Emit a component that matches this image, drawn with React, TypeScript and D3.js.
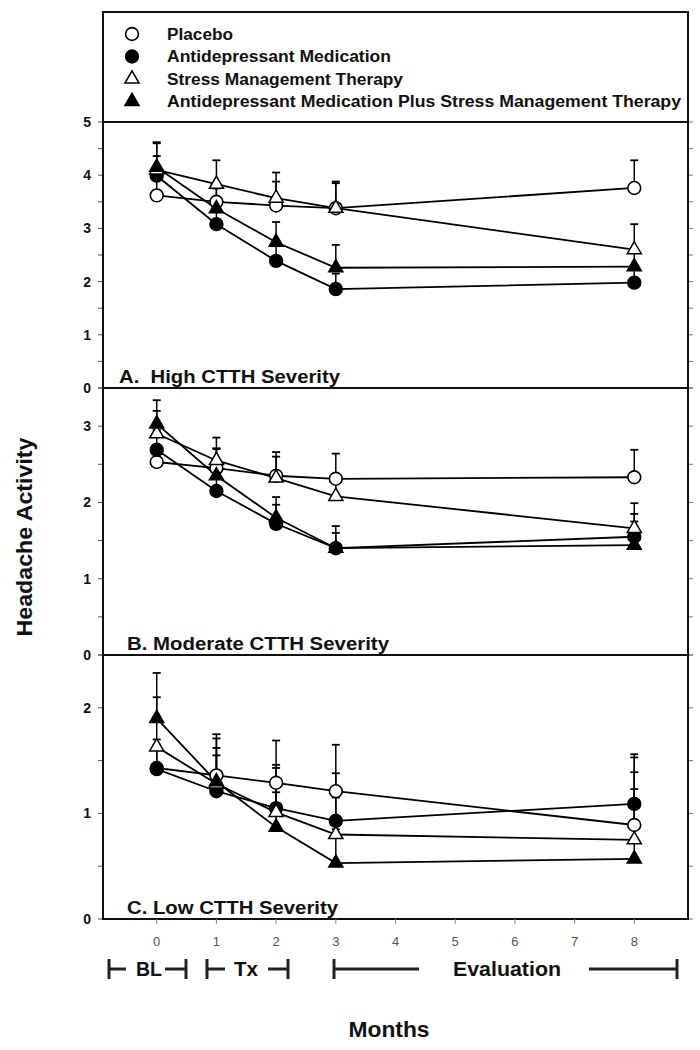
import React from 'react';
import * as d3 from 'd3';

// ---------- data ----------
const months = [0, 1, 2, 3, 8];
const xTickValues = [0, 1, 2, 3, 4, 5, 6, 7, 8];

const seriesNames = [
  'Placebo',
  'Antidepressant Medication',
  'Stress Management Therapy',
  'Antidepressant Medication Plus Stress Management Therapy',
];
const seriesSymbols = ['openCircle', 'filledCircle', 'openTriangle', 'filledTriangle'];

// Panel A: High CTTH severity (means, upper error-bar ends)
const highPlacebo = [3.62, 3.5, 3.43, 3.38, 3.76];
const highPlaceboTop = [3.95, 3.85, 3.88, 3.88, 4.28];
const highMed = [3.99, 3.08, 2.39, 1.86, 1.98];
const highMedTop = [4.36, 3.4, 2.68, 2.15, 2.3];
const highSmt = [4.1, 3.83, 3.57, 3.38, 2.6];
const highSmtTop = [4.6, 4.28, 4.05, 3.85, 3.08];
const highCombo = [4.15, 3.37, 2.74, 2.26, 2.28];
const highComboTop = [4.62, 3.75, 3.12, 2.69, 2.55];

// Panel B: Moderate CTTH severity
const modPlacebo = [2.53, 2.45, 2.35, 2.31, 2.33];
const modPlaceboTop = [2.75, 2.7, 2.6, 2.64, 2.69];
const modMed = [2.69, 2.15, 1.72, 1.4, 1.55];
const modMedTop = [2.95, 2.4, 1.97, 1.69, 1.85];
const modSmt = [2.9, 2.55, 2.32, 2.08, 1.66];
const modSmtTop = [3.2, 2.85, 2.66, 2.35, 1.99];
const modCombo = [3.03, 2.35, 1.8, 1.4, 1.44];
const modComboTop = [3.34, 2.71, 2.07, 1.6, 1.75];

// Panel C: Low CTTH severity
const lowPlacebo = [1.43, 1.36, 1.29, 1.21, 0.89];
const lowPlaceboTop = [1.7, 1.75, 1.69, 1.65, 1.39];
const lowMed = [1.42, 1.21, 1.05, 0.93, 1.09];
const lowMedTop = [1.65, 1.62, 1.43, 1.38, 1.56];
const lowSmt = [1.63, 1.28, 1.01, 0.8, 0.75];
const lowSmtTop = [2.1, 1.71, 1.46, 1.15, 1.23];
const lowCombo = [1.9, 1.3, 0.87, 0.53, 0.57];
const lowComboTop = [2.33, 1.55, 1.2, 0.85, 1.53];

const panelTitles = ['A.  High CTTH Severity', 'B. Moderate CTTH Severity', 'C. Low CTTH Severity'];
const panelMax = [5, 3.5, 2.5];
const panelYTicks = [
  [0, 1, 2, 3, 4, 5],
  [0, 1, 2, 3],
  [0, 1, 2],
];
const panelMeans = [
  [highPlacebo, highMed, highSmt, highCombo],
  [modPlacebo, modMed, modSmt, modCombo],
  [lowPlacebo, lowMed, lowSmt, lowCombo],
];
const panelTops = [
  [highPlaceboTop, highMedTop, highSmtTop, highComboTop],
  [modPlaceboTop, modMedTop, modSmtTop, modComboTop],
  [lowPlaceboTop, lowMedTop, lowSmtTop, lowComboTop],
];

const phaseLabels = ['BL', 'Tx', 'Evaluation'];
const yTitle = 'Headache Activity';
const xTitle = 'Months';

// ---------- layout ----------
const W = 700;
const H = 1050;
const LEFT = 103;
const RIGHT = 688;
const LEGEND_TOP = 12;
const panelPix: [number, number][] = [
  [388, 122],
  [655, 388],
  [919, 655],
];
const panelTitleX = [119, 127, 127];
const panelTitleW = [221, 262, 211];
const FONT = '"Liberation Sans", Arial, Helvetica, sans-serif';

const x = d3.scaleLinear().domain([-0.9, 8.9]).range([LEFT, RIGHT]);

function Marker({ kind, cx, cy }: { kind: string; cx: number; cy: number }) {
  const filled = kind.startsWith('filled');
  if (kind.endsWith('Circle')) {
    return (
      <circle cx={cx} cy={cy} r={6.4} fill={filled ? '#000' : '#fff'} stroke="#000" strokeWidth={1.6} />
    );
  }
  const d = d3.symbol(d3.symbolTriangle, 86)() as string;
  return (
    <path
      d={d}
      transform={`translate(${cx},${cy})`}
      fill={filled ? '#000' : '#fff'}
      stroke="#000"
      strokeWidth={1.5}
      strokeLinejoin="miter"
    />
  );
}

function Panel({ idx }: { idx: number }) {
  const [y0, y1] = panelPix[idx];
  const y = d3.scaleLinear().domain([0, panelMax[idx]]).range([y0, y1]);
  const minor = d3.range(0, panelMax[idx] + 0.001, 0.5);
  const line = d3
    .line<number>()
    .x((_, i) => x(months[i]))
    .y((v) => y(v));
  return (
    <g>
      {minor.map((t) => (
        <g key={'t' + t}>
          <line x1={LEFT - 5} x2={LEFT} y1={y(t)} y2={y(t)} stroke="#555" strokeWidth={1} />
          <line x1={RIGHT} x2={RIGHT + 5} y1={y(t)} y2={y(t)} stroke="#777" strokeWidth={1} />
        </g>
      ))}
      {panelYTicks[idx].map((t) => (
        <text
          key={'l' + t}
          x={91}
          y={y(t)}
          dy="0.36em"
          textAnchor="end"
          fontFamily={FONT}
          fontWeight="bold"
          fontSize={14}
          fill="#111"
        >
          {t}
        </text>
      ))}
      {panelMeans[idx].map((vals, s) => {
        const tops = panelTops[idx][s];
        return (
          <g key={'s' + s}>
            {vals.map((v, i) => (
              <g key={'e' + i}>
                <line x1={x(months[i])} x2={x(months[i])} y1={y(v)} y2={y(tops[i])} stroke="#000" strokeWidth={1.5} />
                <line
                  x1={x(months[i]) - 4}
                  x2={x(months[i]) + 4}
                  y1={y(tops[i])}
                  y2={y(tops[i])}
                  stroke="#000"
                  strokeWidth={1.8}
                />
              </g>
            ))}
            <path d={line(vals) as string} fill="none" stroke="#000" strokeWidth={1.8} />
          </g>
        );
      })}
      {panelMeans[idx].map((vals, s) => (
        <g key={'m' + s}>
          {vals.map((v, i) => (
            <Marker key={i} kind={seriesSymbols[s]} cx={x(months[i])} cy={y(v)} />
          ))}
        </g>
      ))}
      <text
        x={panelTitleX[idx]}
        y={y0 - 5}
        fontFamily={FONT}
        fontWeight="bold"
        fontSize={18}
        textLength={panelTitleW[idx]}
        lengthAdjust="spacingAndGlyphs"
        fill="#111"
        style={{ whiteSpace: 'pre' }}
      >
        {panelTitles[idx]}
      </text>
    </g>
  );
}

const legendRowY = [34, 56.5, 79, 101.5];
const legendTextW = [66, 224, 236, 514];

export default function App() {
  const bottom = panelPix[2][0];
  const bracketY = 969;
  return (
    <svg
      width={W}
      height={H}
      style={{ position: 'absolute', left: 0, top: 0, background: '#fff' }}
      xmlns="http://www.w3.org/2000/svg"
    >
      <rect x={0} y={0} width={W} height={H} fill="#fff" />
      {seriesNames.map((name, i) => (
        <g key={name}>
          <Marker kind={seriesSymbols[i]} cx={132} cy={legendRowY[i]} />
          <text
            x={167}
            y={legendRowY[i]}
            dy="0.36em"
            fontFamily={FONT}
            fontWeight="bold"
            fontSize={16}
            textLength={legendTextW[i]}
            lengthAdjust="spacingAndGlyphs"
            fill="#111"
          >
            {name}
          </text>
        </g>
      ))}
      {[0, 1, 2].map((i) => (
        <Panel key={i} idx={i} />
      ))}
      <rect
        x={LEFT}
        y={LEGEND_TOP}
        width={RIGHT - LEFT}
        height={bottom - LEGEND_TOP}
        fill="none"
        stroke="#111"
        strokeWidth={2}
      />
      {panelPix.map(([b, t], i) => (
        <line key={i} x1={LEFT} x2={RIGHT} y1={t} y2={t} stroke="#111" strokeWidth={2.2} />
      ))}
      {xTickValues.map((t) => (
        <g key={t}>
          <line x1={x(t)} x2={x(t)} y1={bottom} y2={bottom + 5} stroke="#888" strokeWidth={1} />
          <text
            x={x(t)}
            y={941}
            dy="0.36em"
            textAnchor="middle"
            fontFamily={FONT}
            fontSize={13}
            fill="#555"
          >
            {t}
          </text>
        </g>
      ))}
      <g stroke="#222" strokeWidth={3}>
        <line x1={109} x2={109} y1={bracketY - 10} y2={bracketY + 10} />
        <line x1={109} x2={126} y1={bracketY} y2={bracketY} />
        <line x1={165} x2={186} y1={bracketY} y2={bracketY} />
        <line x1={186} x2={186} y1={bracketY - 10} y2={bracketY + 10} />

        <line x1={207} x2={207} y1={bracketY - 10} y2={bracketY + 10} />
        <line x1={207} x2={225} y1={bracketY} y2={bracketY} />
        <line x1={268} x2={288} y1={bracketY} y2={bracketY} />
        <line x1={288} x2={288} y1={bracketY - 10} y2={bracketY + 10} />

        <line x1={334} x2={334} y1={bracketY - 10} y2={bracketY + 10} />
        <line x1={334} x2={419} y1={bracketY} y2={bracketY} />
        <line x1={589} x2={677} y1={bracketY} y2={bracketY} />
        <line x1={677} x2={677} y1={bracketY - 10} y2={bracketY + 10} />
      </g>
      {[
        [149, 26],
        [246, 24],
        [507, 108],
      ].map(([cx, w], i) => (
        <text
          key={phaseLabels[i]}
          x={cx}
          y={bracketY}
          dy="0.36em"
          textAnchor="middle"
          fontFamily={FONT}
          fontWeight="bold"
          fontSize={20}
          textLength={w}
          lengthAdjust="spacingAndGlyphs"
          fill="#111"
        >
          {phaseLabels[i]}
        </text>
      ))}
      <text
        x={389}
        y={1029}
        dy="0.36em"
        textAnchor="middle"
        fontFamily={FONT}
        fontWeight="bold"
        fontSize={22}
        textLength={81}
        lengthAdjust="spacingAndGlyphs"
        fill="#111"
      >
        {xTitle}
      </text>
      <text
        transform="translate(24,537) rotate(-90)"
        textAnchor="middle"
        dy="0.36em"
        fontFamily={FONT}
        fontWeight="bold"
        fontSize={21.5}
        textLength={199}
        lengthAdjust="spacingAndGlyphs"
        fill="#111"
      >
        {yTitle}
      </text>
    </svg>
  );
}
